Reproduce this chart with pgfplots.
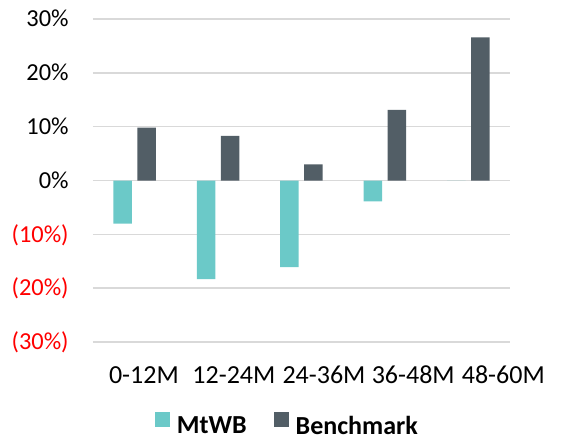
\documentclass[border=0pt]{standalone}
\usepackage{pgfplots}
\pgfplotsset{compat=1.18}
\usepackage{fontspec}
\setmainfont{Carlito}
\definecolor{mtwb}{HTML}{6BC9C8}
\definecolor{bench}{HTML}{525E66}
\definecolor{gridc}{HTML}{D9D9D9}
\definecolor{negred}{HTML}{FF0000}
\begin{document}
\begin{tikzpicture}
\begin{axis}[
  scale only axis,
  width=208.5pt, height=161.5pt,
  xmin=-0.5, xmax=4.5,
  ymin=-30, ymax=30,
  ytick={-30,-20,-10,0,10,20,30},
  yticklabels={\textcolor{negred}{(30\%)},\textcolor{negred}{(20\%)},\textcolor{negred}{(10\%)},0\%,10\%,20\%,30\%},
  xtick={0.11,1.19,2.27,3.34,4.42},
  xticklabels={0-12M,12-24M,24-36M,36-48M,48-60M},
  ymajorgrids,
  grid style={gridc, line width=0.7pt},
  axis line style={draw=none},
  tick style={draw=none},
  major tick length=0pt,
  /pgf/number format/assume math mode=true,
  yticklabel style={font=\fontsize{12.2}{14}\selectfont, anchor=base east, inner sep=0pt, xshift=-12pt, yshift=-3.9pt},
  xticklabel style={font=\fontsize{13}{15}\selectfont, anchor=base, inner sep=0pt, yshift=-20.6pt},
  legend columns=2,
  legend style={at={(0.472,-0.258)}, anchor=center, draw=none, inner sep=0pt,
    font=\fontsize{13}{15}\selectfont\bfseries,
    nodes={inner xsep=3.5pt, inner ysep=0.5pt},
    /tikz/every even column/.append style={column sep=10pt}},
]
\addplot[ybar, bar width=9.25pt, bar shift=-6pt, fill=mtwb, draw=none,
  legend image code/.code={\fill[mtwb] (0pt,0pt) rectangle (7.5pt,7.5pt);}]
  coordinates {(0,-8.0) (1,-18.3) (2,-16.1) (3,-3.9) (4,0)};
\addlegendentry{MtWB}
\addplot[ybar, bar width=9.25pt, bar shift=6pt, fill=bench, draw=none,
  legend image code/.code={\fill[bench] (0pt,0pt) rectangle (7.5pt,7.5pt);}]
  coordinates {(0,9.8) (1,8.3) (2,3.0) (3,13.1) (4,26.6)};
\addlegendentry{Benchmark}
\coordinate (bl) at (rel axis cs:0,0);
\end{axis}
\pgfresetboundingbox
\path[use as bounding box] ([shift={(-46.5pt,-49pt)}]bl) rectangle ([shift={(234.5pt,171pt)}]bl);
\end{tikzpicture}
\end{document}
